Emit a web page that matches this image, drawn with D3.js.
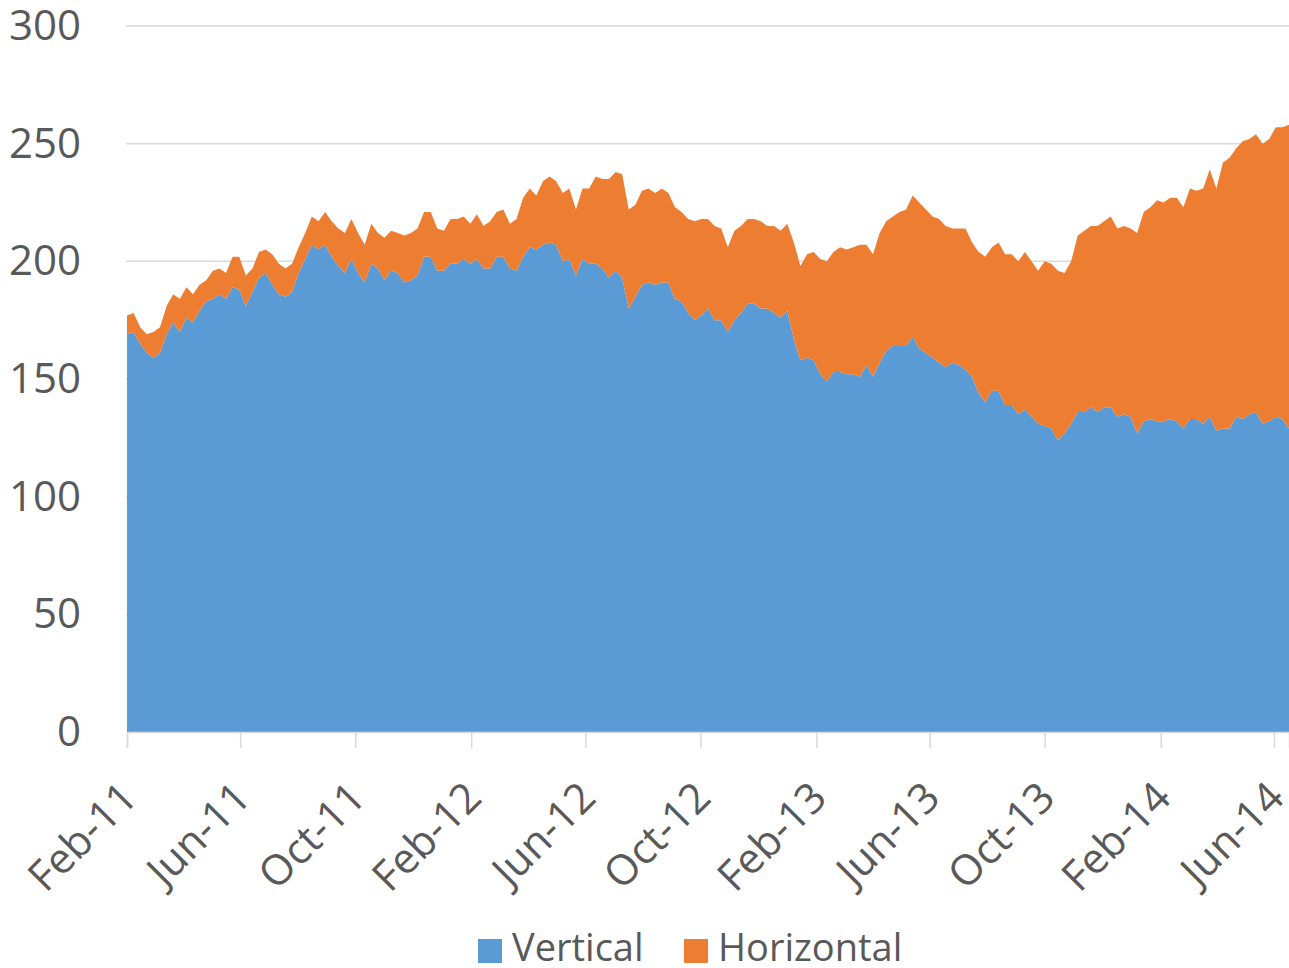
<html>
<head>
<title>Vertical vs Horizontal</title>
<script src="https://cdn.jsdelivr.net/npm/d3@7"></script>
<style>
  body { margin: 0; background: #fff; }
  text { font-family: "Open Sans", "Noto Sans", sans-serif; fill: #595959; }
</style>
</head>
<body>
<div id="chart"></div>
<script>
// weekly observations, first week and count
var startDate = new Date(2011, 1, 4);
var seriesNames = ["Vertical", "Horizontal"];
var seriesColors = ["#5b9bd5", "#ed7d31"];

var vertical = [
  169,170,165,161,159,161,169,174,170,176,174,179,183,184,186,184,189,188,181,187,
  193,195,190,186,185,187,195,201,207,205,207,202,198,195,201,195,191,199,197,192,
  196,195,191,192,194,202,202,196,196,199,199,201,199,201,197,197,202,202,197,196,
  202,206,205,207,208,207,200,201,194,201,199,199,197,193,196,193,180,185,190,191,
  190,191,191,184,183,178,175,177,180,175,175,170,175,178,182,182,180,180,178,176,
  179,167,158,159,158,152,149,153,153,152,152,151,156,151,157,162,164,164,164,168,
  163,161,159,157,155,157,156,154,151,144,140,145,145,139,139,135,137,134,131,130,
  129,124,127,131,136,136,138,136,138,138,134,135,134,127,132,133,132,132,133,132,
  129,133,133,131,134,128,129,129,134,133,135,136,131,132,134,133,129
];
var horizontal = [
  8,8,7,8,11,11,12,12,14,13,12,11,9,12,11,11,13,14,13,10,
  11,10,13,13,12,12,11,11,12,12,14,15,16,17,17,17,16,17,15,18,
  17,17,20,20,20,19,19,18,17,19,19,18,17,19,18,20,19,20,19,22,
  25,25,23,27,28,27,29,30,28,30,32,37,38,42,42,44,42,39,40,40,
  39,40,38,39,38,40,42,41,38,40,39,36,38,37,36,36,37,35,37,37,
  37,41,40,44,46,49,51,51,53,53,54,56,51,52,55,55,55,57,58,60,
  62,61,60,61,60,57,58,60,57,60,62,61,63,64,64,65,67,66,65,70,
  70,72,68,69,75,77,77,79,79,81,80,80,80,85,89,90,94,93,94,95,
  94,98,97,100,105,103,113,115,114,118,117,118,119,120,123,124,129
];
var yTicks = [0, 50, 100, 150, 200, 250, 300];
var tickLabels = ["Feb-11","Jun-11","Oct-11","Feb-12","Jun-12","Oct-12",
                  "Feb-13","Jun-13","Oct-13","Feb-14","Jun-14"];

(function(){
  var w = 1289, h = 968;
  var plotLeft = 127, plotRight = 1289, plotTop = 26, plotBottom = 732;

  var rows = vertical.map(function(v, i){
    return { date: d3.timeWeek.offset(startDate, i), Vertical: v, Horizontal: horizontal[i] };
  });
  var tickDates = tickLabels.map(function(d, i){ return d3.timeMonth.offset(startDate, 4 * i); });

  var x = d3.scaleTime()
    .domain([rows[0].date, rows[rows.length - 1].date])
    .range([plotLeft, plotRight]);
  var y = d3.scaleLinear().domain([0, 300]).range([plotBottom, plotTop]);

  var svg = d3.select("#chart").append("svg")
    .attr("width", w)
    .attr("height", h);

  // gridlines
  svg.append("g")
    .selectAll("line")
    .data(yTicks.slice(1))
    .enter().append("line")
      .attr("x1", plotLeft - 1).attr("x2", plotRight)
      .attr("y1", function(d){ return y(d); })
      .attr("y2", function(d){ return y(d); })
      .attr("stroke", "#d9d9d9")
      .attr("stroke-width", 1.5);

  var stack = d3.stack().keys(seriesNames);
  var area = d3.area()
    .x(function(d){ return x(d.data.date); })
    .y0(function(d){ return y(d[0]); })
    .y1(function(d){ return y(d[1]); });

  svg.append("g")
    .selectAll("path")
    .data(stack(rows))
    .enter().append("path")
      .attr("fill", function(d, i){ return seriesColors[i]; })
      .attr("d", area);

  // x axis
  var xAxis = d3.axisBottom(x)
    .tickValues(tickDates)
    .tickSize(16)
    .tickFormat(function(d, i){ return tickLabels[i]; });

  var gx = svg.append("g")
    .attr("transform", "translate(0," + plotBottom + ")")
    .call(xAxis);
  gx.select(".domain").attr("stroke", "#d9d9d9").attr("stroke-width", 1.5);
  gx.selectAll(".tick line").attr("stroke", "#d9d9d9").attr("stroke-width", 1.5);
  gx.selectAll(".tick text")
    .attr("font-size", 42)
    .attr("fill", "#595959")
    .attr("text-anchor", "end")
    .attr("dy", null)
    .attr("y", 0)
    .attr("transform", "translate(12,68) rotate(-45)");

  // y axis
  var gy = svg.append("g")
    .attr("transform", "translate(81,0)")
    .call(d3.axisLeft(y).tickValues(yTicks).tickSize(0).tickPadding(0));
  gy.select(".domain").remove();
  gy.selectAll(".tick text")
    .attr("font-size", 42)
    .attr("fill", "#595959");

  // legend
  var legend = svg.append("g")
    .selectAll("g")
    .data(seriesNames)
    .enter().append("g")
      .attr("transform", function(d, i){ return "translate(" + [478, 684][i] + ",939)"; });
  legend.append("rect")
    .attr("width", 24).attr("height", 24)
    .attr("fill", function(d, i){ return seriesColors[i]; });
  legend.append("text")
    .attr("x", 34).attr("y", 22)
    .attr("font-size", 38)
    .text(function(d){ return d; });
})();
</script>
</body>
</html>
